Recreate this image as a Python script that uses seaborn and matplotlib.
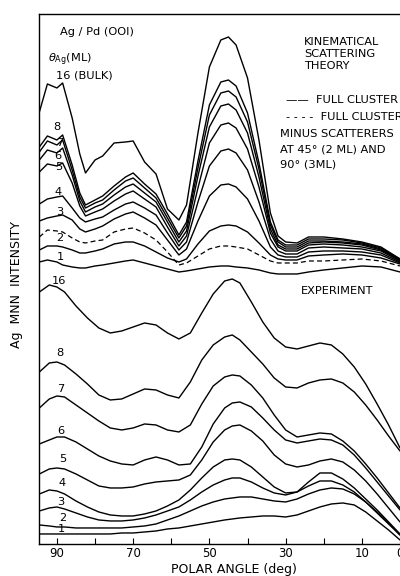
import numpy as np
import pandas as pd
import matplotlib
matplotlib.use("Agg")
import matplotlib.pyplot as plt
import seaborn as sns

# ---------------- data (arbitrary intensity units) ----------------
theory_angle = [94.6, 92.5, 90, 88.5, 86, 84, 82.5, 80, 78, 75, 72, 70, 67, 64, 61, 58,
                56, 53, 50, 47, 45, 43, 40, 37, 34, 32, 30, 27, 24, 20, 15, 10, 5, 0]

th_16 = [432, 460, 456, 461, 426, 390, 371, 384, 388, 401, 402, 403, 382, 370, 335, 324,
         339, 411, 477, 504, 507, 499, 466, 404, 331, 308, 302, 301, 307, 307, 305, 302, 297, 285]
th_8 = [397, 408, 404, 409, 379, 351, 339, 344, 348, 358, 367, 371, 360, 350, 330, 309,
        322, 383, 439, 462, 464, 458, 431, 381, 322, 304, 299, 299, 305, 305, 304, 301, 296, 285]
th_7 = [392, 403, 399, 404, 374, 347, 336, 341, 344, 354, 363, 366, 356, 346, 326, 306,
        318, 376, 429, 451, 453, 447, 422, 375, 319, 302, 297, 297, 303, 303, 302, 300, 295, 284]
th_6 = [384, 394, 391, 396, 369, 343, 332, 337, 340, 349, 357, 360, 351, 342, 322, 302,
        313, 368, 417, 438, 440, 434, 411, 367, 315, 299, 295, 295, 301, 302, 301, 299, 294, 284]
th_5 = [372, 380, 378, 381, 361, 338, 328, 332, 335, 343, 350, 353, 345, 337, 317, 298,
        308, 356, 401, 419, 421, 416, 395, 357, 311, 297, 293, 293, 299, 300, 299, 297, 293, 283]
th_4 = [340, 345, 347, 348, 336, 326, 322, 325, 327, 334, 340, 342, 336, 329, 311, 294,
        302, 342, 378, 393, 395, 391, 374, 342, 305, 293, 290, 290, 296, 297, 296, 295, 291, 282]
th_3 = [323, 326, 328, 329, 324, 315, 312, 315, 318, 325, 330, 332, 326, 319, 304, 289,
        295, 323, 348, 359, 360, 357, 345, 323, 297, 289, 287, 287, 292, 293, 293, 292, 289, 281]
th_2 = [294, 298, 298, 297, 294, 291, 291, 293, 295, 300, 302, 302, 298, 292, 286, 282,
        285, 300, 313, 318, 319, 318, 312, 301, 289, 285, 284, 284, 288, 289, 290, 289, 286, 280]
th_2_minus = [307, 314, 313, 312, 306, 302, 301, 303, 304, 312, 315, 316, 311, 304, 292, 279,
              281, 288, 295, 298, 298, 297, 295, 289, 283, 281, 281, 281, 283, 283, 284, 285, 283, 278]
th_1 = [282, 284, 282, 279, 277, 276, 276, 278, 279, 281, 283, 284, 281, 278, 275, 272,
        273, 275, 277, 278, 278, 277, 276, 274, 271, 270, 270, 270, 272, 274, 276, 278, 277, 272]

exp_angle = [94.6, 92, 90, 88, 85, 82, 79, 76, 73, 70, 67, 64, 61, 58, 55, 52, 49, 46,
             44, 42, 39, 36, 33, 30, 27, 24, 21, 18, 15, 12, 9, 6, 3, 0]

ex_16 = [252, 259, 257, 252, 238, 226, 216, 211, 213, 217, 221, 219, 211, 205, 211, 231, 250, 263,
         265, 261, 242, 222, 206, 197, 195, 198, 201, 199, 190, 177, 160, 140, 119, 96]
ex_8 = [172, 181, 182, 179, 170, 160, 149, 144, 145, 150, 155, 154, 149, 146, 162, 184, 199, 207,
        209, 204, 192, 180, 166, 157, 156, 161, 164, 165, 161, 152, 139, 124, 108, 93]
ex_7 = [136, 145, 148, 147, 139, 131, 123, 116, 114, 116, 120, 119, 114, 112, 119, 140, 158, 167,
        169, 168, 159, 146, 129, 114, 107, 109, 111, 110, 103, 93, 80, 66, 51, 36]
ex_6 = [100, 104, 107, 107, 102, 95, 88, 83, 80, 79, 84, 87, 84, 79, 80, 97, 120, 136,
        141, 142, 137, 126, 114, 104, 101, 103, 105, 104, 99, 89, 76, 62, 48, 34]
ex_5 = [70, 75, 76, 75, 70, 64, 58, 56, 56, 57, 60, 62, 63, 64, 69, 84, 102, 114,
        118, 119, 113, 103, 89, 80, 77, 79, 83, 85, 82, 74, 63, 50, 36, 22]
ex_4 = [50, 54, 53, 50, 43, 37, 32, 29, 28, 28, 30, 33, 38, 44, 54, 66, 77, 84,
        85, 84, 77, 67, 57, 51, 52, 62, 71, 71, 65, 56, 45, 34, 22, 10]
ex_3 = [33, 36, 37, 35, 31, 27, 24, 23, 23, 24, 26, 29, 33, 37, 44, 52, 59, 64,
        66, 66, 62, 56, 51, 49, 52, 58, 63, 63, 59, 52, 42, 31, 20, 9]
ex_2 = [19, 18, 17, 17, 16, 16, 16, 16, 16, 17, 18, 20, 24, 28, 33, 38, 42, 45,
        46, 47, 47, 45, 43, 42, 45, 50, 54, 56, 55, 50, 42, 32, 21, 9]
ex_1 = [10, 10, 10, 10, 10, 10, 10, 10, 11, 11, 12, 13, 15, 16, 18, 20, 22, 24,
        25, 26, 27, 28, 28, 27, 29, 33, 37, 40, 41, 39, 32, 23, 14, 4]

major_ticks = [90, 70, 50, 30, 10, 0]
major_labels = ["90", "70", "50", "30", "10", "0"]
minor_ticks = [80, 60, 40, 20]

theory = {"16": th_16, "8": th_8, "7": th_7, "6": th_6, "5": th_5,
          "4": th_4, "3": th_3, "2": th_2, "1": th_1}
experiment = {"16": ex_16, "8": ex_8, "7": ex_7, "6": ex_6, "5": ex_5,
              "4": ex_4, "3": ex_3, "2": ex_2, "1": ex_1}

# ---------------- plot ----------------
sns.set_style("ticks")
plt.rcParams['font.family'] = ['DejaVu Sans']
plt.rcParams['text.color'] = 'black'
plt.rcParams['axes.labelcolor'] = 'black'
plt.rcParams['xtick.color'] = 'black'
plt.rcParams['axes.edgecolor'] = 'black'

fig = plt.figure(figsize=(4.0, 5.76), dpi=100)
ax = fig.add_axes([0.0975, 0.0556, 0.9025, 0.9201])

lw = 1.0
for name, vals in theory.items():
    df = pd.DataFrame({"angle": theory_angle, "I": vals})
    sns.lineplot(data=df, x="angle", y="I", ax=ax, color="black", lw=lw, sort=False)
df = pd.DataFrame({"angle": theory_angle, "I": th_2_minus})
sns.lineplot(data=df, x="angle", y="I", ax=ax, color="black", lw=0.9, sort=False,
             linestyle=(0, (4, 2.5)))
for name, vals in experiment.items():
    df = pd.DataFrame({"angle": exp_angle, "I": vals})
    sns.lineplot(data=df, x="angle", y="I", ax=ax, color="black", lw=lw, sort=False)

ax.set_xlim(94.7, 0)
ax.set_ylim(0, 530)
ax.set_yticks([])
ax.set_xticks(major_ticks)
ax.set_xticklabels(major_labels, fontsize=8.5)
ax.set_xticks(minor_ticks, minor=True)
ax.tick_params(axis="x", which="both", direction="in", length=4, width=0.8, pad=2)
ax.spines["right"].set_visible(False)
for s in ["left", "top", "bottom"]:
    ax.spines[s].set_linewidth(1.0)

ax.set_xlabel("POLAR ANGLE (deg)", fontsize=9)
ax.xaxis.set_label_coords(0.54, -0.036)
ax.set_ylabel("Ag  MNN  INTENSITY", fontsize=9, labelpad=0)
ax.yaxis.set_label_coords(-0.045, 0.49)

fs = 8.2
ax.text(89.2, 512, "Ag / Pd (OOI)", fontsize=fs, ha="left", va="center")
ax.text(92.3, 484, r"$\theta_{\mathrm{Ag}}$(ML)", fontsize=fs, ha="left", va="center")
ax.text(90.2, 468, "16 (BULK)", fontsize=fs, ha="left", va="center")

th_label_pos = {"8": (89.9, 417), "7": (89.2, 401), "6": (89.7, 388), "5": (89.4, 377),
                "4": (89.7, 352), "3": (89.2, 332), "2": (89.2, 306), "1": (89.2, 287)}
for k, (a, i) in th_label_pos.items():
    ax.text(a, i, k, fontsize=fs, ha="center", va="center")

ex_label_pos = {"16": (89.4, 263), "8": (89.2, 191), "7": (88.9, 155), "6": (88.9, 113),
                "5": (88.6, 85), "4": (88.6, 61), "3": (88.9, 42), "2": (88.6, 26), "1": (88.9, 15)}
for k, (a, i) in ex_label_pos.items():
    ax.text(a, i, k, fontsize=fs, ha="center", va="center")

for txt, i in [("KINEMATICAL", 502), ("SCATTERING", 490), ("THEORY", 478)]:
    ax.text(25.1, i, txt, fontsize=fs, ha="left", va="center")

ax.text(29.8, 444, "\u2014\u2014  FULL CLUSTER", fontsize=fs, ha="left", va="center")
ax.text(29.8, 427, "- - - -  FULL CLUSTER", fontsize=fs, ha="left", va="center")
ax.text(31.6, 410, "MINUS SCATTERERS", fontsize=fs, ha="left", va="center")
ax.text(31.6, 394, "AT 45\u00b0 (2 ML) AND", fontsize=fs, ha="left", va="center")
ax.text(31.6, 379, "90\u00b0 (3ML)", fontsize=fs, ha="left", va="center")

ax.text(26.1, 253, "EXPERIMENT", fontsize=fs, ha="left", va="center")

fig.savefig("out.png", dpi=100)
